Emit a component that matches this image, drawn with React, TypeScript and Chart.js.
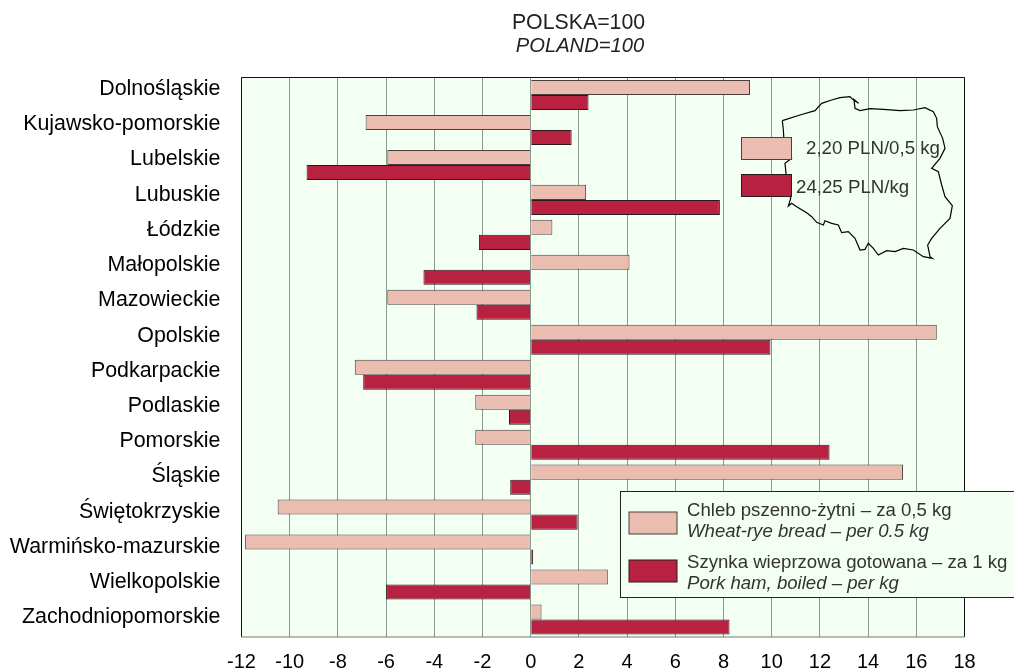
import React, { useEffect, useRef } from "react";
import { Chart, registerables } from "chart.js";

Chart.register(...registerables);

const regions = ["Dolnośląskie","Kujawsko-pomorskie","Lubelskie","Lubuskie","Łódzkie","Małopolskie","Mazowieckie","Opolskie","Podkarpackie","Podlaskie","Pomorskie","Śląskie","Świętokrzyskie","Warmińsko-mazurskie","Wielkopolskie","Zachodniopomorskie"];
const bread = [9.1,-6.85,-5.95,2.3,0.9,4.1,-5.95,16.85,-7.3,-2.3,-2.3,15.45,-10.5,-11.85,3.2,0.45];
const ham = [2.4,1.7,-9.3,7.85,-2.15,-4.45,-2.25,9.95,-6.95,-0.9,12.4,-0.85,1.95,0.1,-6.0,8.25];
const breadLabel = ["Chleb pszenno-żytni – za 0,5 kg", "Wheat-rye bread – per 0.5 kg"];
const hamLabel = ["Szynka wieprzowa gotowana – za 1 kg", "Pork ham, boiled – per kg"];
const breadPrice = "2,20 PLN/0,5 kg";
const hamPrice = "24,25 PLN/kg";
const titleLines = ["POLSKA=100", "POLAND=100"];
const mapOutline = [[247,182],[300,165],[345,152],[365,130],[395,120],[420,113],[450,110],[458,118],[476,130],[462,118],[465,145],[480,152],[510,146],[550,148],[600,152],[640,150],[675,143],[700,155],[710,175],[712,200],[728,235],[735,265],[720,295],[695,325],[715,335],[725,375],[735,410],[757,437],[750,475],[720,505],[695,535],[683,555],[690,590],[697,595],[670,590],[640,570],[610,565],[585,575],[560,572],[535,585],[520,565],[505,550],[495,568],[480,570],[465,535],[445,515],[425,518],[415,495],[395,490],[375,482],[370,495],[350,487],[335,470],[320,458],[290,440],[275,430],[265,438],[272,415],[258,340],[255,310],[275,295],[252,240],[250,210],[247,182]];

const PINK = "#EBBCB0";
const RED = "#B82240";
const FONT = '"Liberation Sans", Arial, sans-serif';

const decor = {
  id: "decor",
  beforeDraw(chart: any) {
    const { ctx, chartArea: a } = chart;
    ctx.save();
    ctx.fillStyle = "#F3FFF3";
    ctx.fillRect(a.left, a.top, a.right - a.left, a.bottom - a.top);
    ctx.restore();
  },
  afterDatasetsDraw(chart: any) {
    const { ctx, chartArea: a, scales } = chart;
    ctx.save();
    // frame
    ctx.lineWidth = 1;
    ctx.strokeStyle = "#111";
    ctx.beginPath();
    ctx.moveTo(a.left, a.bottom); ctx.lineTo(a.left, a.top); ctx.lineTo(a.right, a.top); ctx.lineTo(a.right, a.bottom);
    ctx.stroke();
    ctx.strokeStyle = "#777";
    ctx.beginPath(); ctx.moveTo(a.left, a.bottom); ctx.lineTo(a.right, a.bottom); ctx.stroke();

    // region labels
    ctx.fillStyle = "#000";
    ctx.font = `21.4px ${FONT}`;
    ctx.textAlign = "right";
    ctx.textBaseline = "middle";
    regions.forEach((r, i) => {
      const shift = -6 + (4 * i) / (regions.length - 1);
      ctx.fillText(r, 220.5, scales.y.getPixelForValue(i) + shift);
    });

    // title
    ctx.fillStyle = "#222";
    ctx.textAlign = "center";
    ctx.font = `21.3px ${FONT}`;
    ctx.fillText(titleLines[0], 578.5, 23);
    ctx.font = `italic 20.2px ${FONT}`;
    ctx.fillText(titleLines[1], 580, 46);

    // map
    ctx.strokeStyle = "#000";
    ctx.lineWidth = 1.2;
    ctx.beginPath();
    mapOutline.forEach(([x, y], i) => {
      const px = 700 + x / 3, py = 60 + y / 3;
      i ? ctx.lineTo(px, py) : ctx.moveTo(px, py);
    });
    ctx.stroke();

    const swatch = (x: number, y: number, w: number, h: number, fill: string, edge: string) => {
      ctx.fillStyle = fill;
      ctx.strokeStyle = edge;
      ctx.lineWidth = 1;
      ctx.fillRect(x, y, w, h);
      ctx.strokeRect(x, y, w, h);
    };
    swatch(741.5, 137.5, 50, 22, PINK, "#4a3f3f");
    swatch(741.5, 174.5, 50, 22, RED, "#2a1a1f");
    ctx.fillStyle = "#333";
    ctx.textAlign = "left";
    ctx.font = `18.7px ${FONT}`;
    ctx.fillText(breadPrice, 806, 149);
    ctx.fillText(hamPrice, 796, 188);

    // legend box
    ctx.fillStyle = "#F3FFF3";
    ctx.fillRect(620.5, 491.5, 400, 106);
    ctx.strokeStyle = "#222";
    ctx.strokeRect(620.5, 491.5, 400, 106);
    swatch(629, 512, 48, 22, PINK, "#4a3f3f");
    swatch(629, 560, 48, 22, RED, "#2a1a1f");
    ctx.fillStyle = "#333";
    ctx.font = `18.6px ${FONT}`;
    ctx.fillText(breadLabel[0], 687, 511);
    ctx.fillText(hamLabel[0], 687, 563);
    ctx.font = `italic 18.6px ${FONT}`;
    ctx.fillText(breadLabel[1], 687, 532);
    ctx.fillText(hamLabel[1], 687, 584);
    ctx.restore();
  },
};

export default function App() {
  const ref = useRef<HTMLCanvasElement>(null);
  useEffect(() => {
    document.body.style.margin = "0";
    const chart = new Chart(ref.current!, {
      type: "bar",
      data: {
        labels: regions,
        datasets: [
          { label: breadLabel[0], data: bread, backgroundColor: PINK, borderColor: "#4a3f3f", borderWidth: 1 },
          { label: hamLabel[0], data: ham, backgroundColor: RED, borderColor: "#2a1a1f", borderWidth: 1 },
        ],
      },
      options: {
        indexAxis: "y",
        animation: false,
        responsive: false,
        layout: { padding: { top: 77.5, right: 49.5, left: 0, bottom: 0 } },
        plugins: { legend: { display: false }, title: { display: false }, tooltip: { enabled: false } },
        datasets: { bar: { categoryPercentage: 0.86, barPercentage: 1 } },
        scales: {
          x: {
            min: -12,
            max: 18,
            ticks: { stepSize: 2, color: "#000", font: { family: FONT, size: 20 }, padding: 13, maxRotation: 0, autoSkip: false },
            grid: { color: "#8b9a8e", lineWidth: 1, drawTicks: false },
            border: { display: false },
            afterFit(s: any) { s.height = 33; },
          },
          y: {
            ticks: { display: false },
            grid: { display: false },
            border: { display: false },
            afterFit(s: any) { s.width = 241.5; },
          },
        },
      } as any,
      plugins: [decor],
    });
    return () => chart.destroy();
  }, []);
  return (
    <div style={{ position: "absolute", left: 0, top: 0, width: 1014, height: 670, overflow: "hidden" }}>
      <canvas ref={ref} width={1014} height={670} style={{ display: "block" }} />
    </div>
  );
}
